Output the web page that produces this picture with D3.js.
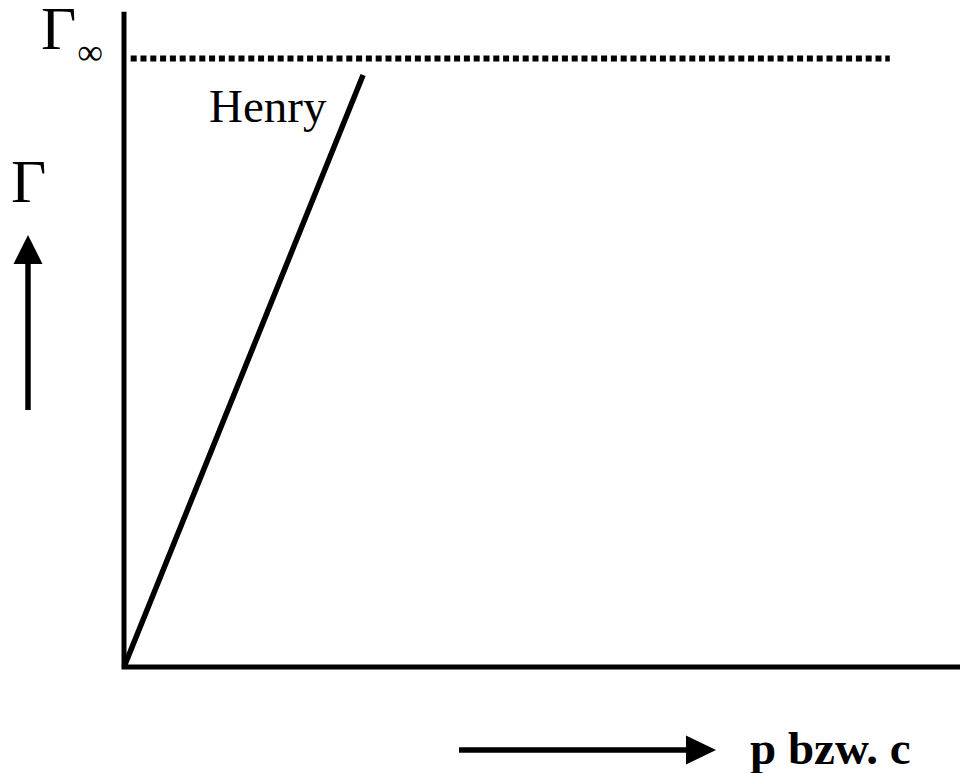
<!DOCTYPE html>
<html>
<head>
<meta charset="utf-8">
<script src="https://cdn.jsdelivr.net/npm/d3@7/dist/d3.min.js"></script>
<style>
  html, body { margin: 0; padding: 0; background: #fff; }
  svg { display: block; }
  text { font-family: "Liberation Serif", "Times New Roman", serif; fill: #000; }
</style>
</head>
<body>
<svg id="chart" width="960" height="773"></svg>
<script>
  'use strict';

  // Henry line (pressure / concentration vs. surface excess, Gamma_inf = 1)
  var henryP = [0, 0.286];
  var henryG = [0, 0.973];

  // saturation level Gamma_inf
  var satP = [0.008, 0.916];
  var satG = [1, 1];

  // extent of the drawn axes
  var axisP = [0, 1];
  var axisG = [0, 1.077];

  var svg = d3.select('#chart');

  var x = d3.scaleLinear().domain([0, 1]).range([124, 960]);
  var y = d3.scaleLinear().domain([0, 1]).range([667, 58.5]);

  var line = d3.line()
    .x(function(d) { return x(d[0]); })
    .y(function(d) { return y(d[1]); });

  var zip = function(a, b) {
    return a.map(function(v, i) { return [v, b[i]]; });
  };

  // axes: plain thick lines, no ticks
  svg.append('path')
    .attr('d', line([[axisP[0], axisG[1]], [axisP[0], axisG[0]], [axisP[1], axisG[0]]]))
    .attr('fill', 'none')
    .attr('stroke', '#000')
    .attr('stroke-width', 5)
    .attr('stroke-linejoin', 'miter');

  // dotted saturation line
  svg.append('path')
    .attr('d', line(zip(satP, satG)))
    .attr('fill', 'none')
    .attr('stroke', '#000')
    .attr('stroke-width', 6)
    .attr('stroke-dasharray', '6,3.8');

  // Henry line
  svg.append('path')
    .attr('d', line(zip(henryP, henryG)))
    .attr('fill', 'none')
    .attr('stroke', '#000')
    .attr('stroke-width', 5.5);

  svg.append('text')
    .attr('x', 209)
    .attr('y', 122)
    .attr('font-size', 47)
    .text('Henry');

  // Gamma_inf label
  var gInf = svg.append('text')
    .attr('x', 41)
    .attr('y', 49)
    .attr('font-size', 61);
  gInf.append('tspan').text('Γ');
  gInf.append('tspan')
    .attr('font-size', 36)
    .attr('dy', 15)
    .attr('dx', 1)
    .text('∞');

  // y label with arrow
  svg.append('text')
    .attr('x', 11)
    .attr('y', 202)
    .attr('font-size', 61)
    .text('Γ');

  svg.append('line')
    .attr('x1', 28).attr('y1', 410)
    .attr('x2', 28).attr('y2', 262)
    .attr('stroke', '#000')
    .attr('stroke-width', 5.5);

  svg.append('path')
    .attr('d', 'M28,235 L42.5,264 L13.5,264 Z')
    .attr('fill', '#000');

  // x label with arrow
  svg.append('line')
    .attr('x1', 459).attr('y1', 750)
    .attr('x2', 688).attr('y2', 750)
    .attr('stroke', '#000')
    .attr('stroke-width', 5.5);

  svg.append('path')
    .attr('d', 'M716,750 L686,735.5 L686,764.5 Z')
    .attr('fill', '#000');

  svg.append('text')
    .attr('x', 750)
    .attr('y', 764)
    .attr('font-size', 47)
    .attr('font-weight', 'bold')
    .text('p bzw. c');
</script>
</body>
</html>
